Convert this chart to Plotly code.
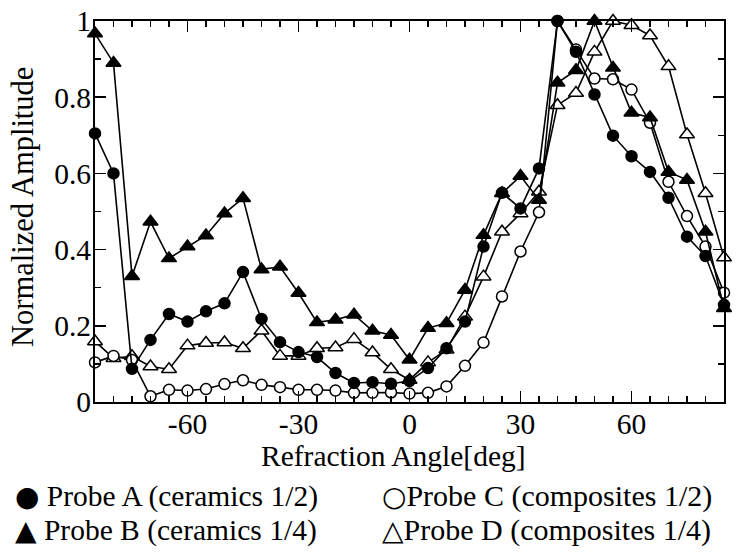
import plotly.graph_objects as go

angles = list(range(-85, 90, 5))

probe_a = [0.705, 0.60, 0.087, 0.163, 0.231, 0.211, 0.238, 0.259, 0.341, 0.218, 0.157,
           0.131, 0.118, 0.076, 0.05, 0.052, 0.048, 0.055,
           0.089, 0.141, 0.211, 0.408, 0.549, 0.508, 0.613,
           1.0, 0.919, 0.807, 0.699, 0.645, 0.604, 0.536, 0.434, 0.383, 0.255]
probe_b = [0.967, 0.89, 0.33, 0.473, 0.377, 0.408, 0.437, 0.495, 0.535, 0.348, 0.355,
           0.286, 0.209, 0.216, 0.229, 0.187, 0.176, 0.111,
           0.194, 0.207, 0.294, 0.438, 0.548, 0.593, 0.53,
           0.838, 0.871, 1.0, 0.877, 0.759, 0.747, 0.604, 0.583, 0.447, 0.246]
probe_c = [0.104, 0.121, 0.11, 0.015, 0.032, 0.03, 0.034, 0.047, 0.057, 0.045, 0.039,
           0.032, 0.032, 0.03, 0.024, 0.024, 0.025, 0.022,
           0.024, 0.041, 0.095, 0.156, 0.277, 0.395, 0.498,
           1.0, 0.925, 0.849, 0.847, 0.82, 0.733, 0.578, 0.488, 0.408, 0.287]
probe_d = [0.159, 0.115, 0.12, 0.093, 0.086, 0.148, 0.155, 0.156, 0.141, 0.187, 0.121,
           0.121, 0.141, 0.143, 0.165, 0.13, 0.086, 0.058,
           0.104, 0.137, 0.224, 0.329, 0.447, 0.495, 0.552,
           0.779, 0.811, 0.919, 1.0, 0.989, 0.962, 0.881, 0.702, 0.548, 0.379]

x_ticks = [-60, -30, 0, 30, 60]
x_tick_labels = ["-60", "-30", "0", "30", "60"]
y_ticks = [0, 0.2, 0.4, 0.6, 0.8, 1]
y_tick_labels = ["0", "0.2", "0.4", "0.6", "0.8", "1"]

legend_symbols = ["●", "○", "▲", "△"]
legend_labels = ["Probe A (ceramics 1/2)", "Probe C (composites 1/2)",
                 "Probe B (ceramics 1/4)", "Probe D (composites 1/4)"]
x_title = "Refraction Angle[deg]"
y_title = "Normalized Amplitude"

FONT = "Liberation Serif"
SYMFONT = "DejaVu Sans"

fig = go.Figure()

series = [
    (probe_d, "triangle-up", "white", 13),
    (probe_c, "circle", "white", 11),
    (probe_b, "triangle-up", "black", 13),
    (probe_a, "circle", "black", 11),
]
for vals, sym, fill, size in series:
    fig.add_trace(go.Scatter(
        x=angles, y=vals, mode="lines+markers",
        line=dict(color="black", width=1.6),
        marker=dict(symbol=sym, size=size, color=fill,
                    line=dict(color="black", width=1.5)),
        cliponaxis=False, showlegend=False, hoverinfo="skip",
    ))

W, H = 741, 555
L, R, T, B = 95, 17, 21, 153
pw, ph = W - L - R, H - T - B

def px_to_paper(x, y):
    return (x - L) / pw, (H - B - y) / ph

def add_text(text, x, y, size, family=FONT, xanchor="left", angle=0):
    px, py = px_to_paper(x, y)
    fig.add_annotation(
        x=px, y=py, xref="paper", yref="paper",
        xanchor=xanchor, yanchor="middle", showarrow=False, align="left",
        text=text, textangle=angle,
        font=dict(family=family, size=size, color="black"),
    )

def sym_span(s, size):
    return f"<span style='font-family:{SYMFONT};font-size:{size}px'>{s}</span>"

def lab_span(t, size):
    return f"<span style='font-size:{size}px'>{t}</span>"

# legend: two columns, each one text block of two rows (row spacing = 1.3 x base size)
ROW_BASE = 25.8
col1 = (sym_span(legend_symbols[0], 28) + lab_span(" " + legend_labels[0], 29.5)
        + "<br>" + sym_span(legend_symbols[2], 28) + lab_span(" " + legend_labels[2], 29.5))
col2 = (sym_span(legend_symbols[1], 28) + lab_span(legend_labels[1], 30)
        + "<br>" + sym_span(legend_symbols[3], 28) + lab_span(legend_labels[3], 30))
add_text(col1, 13, 513, ROW_BASE)
add_text(col2, 380, 513, ROW_BASE)

# axis titles
add_text(x_title, 393, 456, 29.5, xanchor="center")
add_text(y_title, 23, 207, 30.5, xanchor="center", angle=-90)

axis_common = dict(
    showline=True, linecolor="black", linewidth=2, mirror="allticks",
    ticks="inside", ticklen=11, tickwidth=1.5, tickcolor="black",
    showgrid=False, zeroline=False, automargin=False,
    tickfont=dict(family=FONT, size=29.5, color="black"),
)

fig.update_xaxes(
    range=[-85, 85], tickvals=x_ticks, ticktext=x_tick_labels,
    ticklabelstandoff=-5,
    minor=dict(dtick=5, tick0=0, ticks="inside", ticklen=6, tickwidth=1.5, tickcolor="black"),
    **axis_common,
)
fig.update_yaxes(
    range=[0, 1], tickvals=y_ticks, ticktext=y_tick_labels,
    ticklabelstandoff=-4,
    minor=dict(dtick=0.1, tick0=0, ticks="inside", ticklen=6, tickwidth=1.5, tickcolor="black"),
    **axis_common,
)

fig.update_layout(
    width=W, height=H, autosize=False,
    margin=dict(l=L, r=R, t=T, b=B, pad=0),
    paper_bgcolor="white", plot_bgcolor="white",
    font=dict(family=FONT, color="black"),
    hovermode=False,
)

fig.write_html(
    "out.html",
    config={"displayModeBar": False, "staticPlot": True},
    post_script="document.body.style.margin='0';document.body.style.overflow='hidden';",
)
